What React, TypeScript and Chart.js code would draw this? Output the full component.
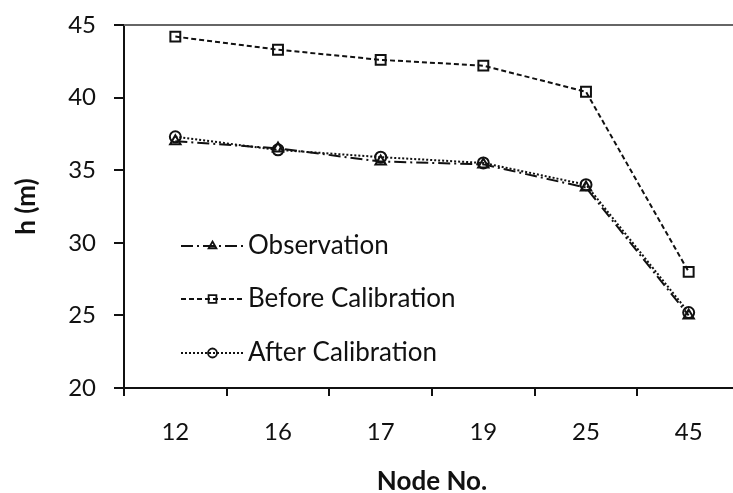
import { useEffect, useRef } from 'react';
import { Chart, registerables } from 'chart.js';

Chart.register(...registerables);

const nodes = ['12', '16', '17', '19', '25', '45'];
const observation = [37.0, 36.5, 35.6, 35.4, 33.8, 25.0];
const beforeCalibration = [44.2, 43.3, 42.6, 42.2, 40.4, 28.0];
const afterCalibration = [37.3, 36.4, 35.9, 35.5, 34.0, 25.2];
const yMin = 20;
const yMax = 45;
const yStep = 5;
const seriesNames = ['Observation', 'Before Calibration', 'After Calibration'];

const FONT = 'Lato, "Open Sans", sans-serif';

function drawMarker(ctx: CanvasRenderingContext2D, style: string, x: number, y: number, r: number) {
  ctx.beginPath();
  if (style === 'rect') {
    const s = Math.SQRT1_2 * r;
    ctx.rect(x - s, y - s, 2 * s, 2 * s);
  } else if (style === 'triangle') {
    ctx.moveTo(x, y - r);
    ctx.lineTo(x + r * 0.866, y + r * 0.5);
    ctx.lineTo(x - r * 0.866, y + r * 0.5);
    ctx.closePath();
  } else {
    ctx.arc(x, y, r, 0, Math.PI * 2);
  }
  ctx.stroke();
}

const insideLegend = {
  id: 'insideLegend',
  afterDraw(chart: any) {
    const ctx = chart.ctx as CanvasRenderingContext2D;
    const area = chart.chartArea;
    const x0 = area.left + 57;
    const x1 = area.left + 120;
    const tx = area.left + 124;
    const rows = [246, 299, 353];
    chart.data.datasets.forEach((ds: any, i: number) => {
      const y = rows[i];
      ctx.save();
      ctx.strokeStyle = '#111';
      ctx.lineWidth = 2;
      ctx.setLineDash(ds.borderDash || []);
      ctx.beginPath();
      ctx.moveTo(x0, y);
      ctx.lineTo(x1, y);
      ctx.stroke();
      ctx.setLineDash([]);
      ctx.lineWidth = 1.8;
      drawMarker(ctx, ds.pointStyle, (x0 + x1) / 2, y, ds.pointStyle === 'rect' ? 5.5 : 4.5);
      ctx.fillStyle = '#111';
      ctx.font = `26px ${FONT}`;
      ctx.textAlign = 'left';
      ctx.textBaseline = 'middle';
      ctx.fillText(ds.label, tx, y);
      ctx.restore();
    });
  },
};

export default function App() {
  const ref = useRef<HTMLCanvasElement>(null);
  const frameRef = useRef<HTMLDivElement>(null);
  useEffect(() => {
    if (!ref.current) return;
    const common = {
      borderColor: '#111',
      borderWidth: 2,
      pointBorderColor: '#111',
      pointBackgroundColor: 'rgba(255,255,255,0)',
      pointBorderWidth: 2,
      fill: false,
      tension: 0,
    };
    const chart = new Chart(ref.current, {
      type: 'line',
      data: {
        labels: nodes,
        datasets: [
          { ...common, label: seriesNames[0], data: observation, borderDash: [12, 4, 2, 4], pointStyle: 'triangle', pointRadius: 6 },
          { ...common, label: seriesNames[1], data: beforeCalibration, borderDash: [5, 3], pointStyle: 'rect', pointRadius: 7 },
          { ...common, label: seriesNames[2], data: afterCalibration, borderDash: [2, 2], pointStyle: 'circle', pointRadius: 5.5 },
        ],
      },
      options: {
        responsive: false,
        animation: false,
        devicePixelRatio: 1,
        layout: { padding: { left: 0, top: 25, right: 20, bottom: 0 } },
        plugins: { legend: { display: false }, tooltip: { enabled: false } },
        scales: {
          x: {
            type: 'category',
            offset: true,
            grid: { display: true, offset: true, drawOnChartArea: false, drawTicks: true, tickLength: 8, color: '#111', lineWidth: 2 },
            border: { display: true, color: '#111', width: 2 },
            ticks: { color: '#111', font: { family: FONT, size: 24 }, padding: 22 },
            title: { display: true, text: 'Node No.', color: '#111', font: { family: FONT, size: 26, weight: 'bold', lineHeight: 0.9 }, padding: { top: 0, bottom: 0 } },
            afterFit: (s: any) => { s.height = 105; s.paddingLeft = 0; s.paddingRight = 0; },
          },
          y: {
            min: yMin,
            max: yMax,
            grid: { display: true, drawOnChartArea: false, drawTicks: true, tickLength: 10, color: '#111', lineWidth: 2 },
            border: { display: true, color: '#111', width: 2 },
            ticks: { stepSize: yStep, color: '#111', font: { family: FONT, size: 24 }, padding: 18 },
            title: { display: true, text: 'h (m)', color: '#111', font: { family: FONT, size: 26, weight: 'bold' }, padding: { top: 11, bottom: 11 } },
            afterFit: (s: any) => { s.width = 124; s.paddingTop = 0; s.paddingBottom = 0; },
          },
        },
      },
      plugins: [insideLegend],
    } as any);
    const f = frameRef.current;
    const area = chart.chartArea;
    if (f && area) {
      const top = Number.isFinite(area.top) ? Math.round(area.top) : 25;
      const left = Number.isFinite(area.left) ? Math.round(area.left) : 124;
      f.style.top = `${top - 1}px`;
      f.style.left = `${left}px`;
    }
    return () => chart.destroy();
  }, []);
  return (
    <div style={{ position: 'fixed', left: 0, top: 0, width: 733, height: 493, overflow: 'hidden', background: '#fff' }}>
      <canvas ref={ref} width={760} height={493} style={{ display: 'block' }} />
      <div ref={frameRef} style={{ position: 'absolute', top: 24, left: 124, right: 0, height: 2, background: '#666666' }} />
    </div>
  );
}
